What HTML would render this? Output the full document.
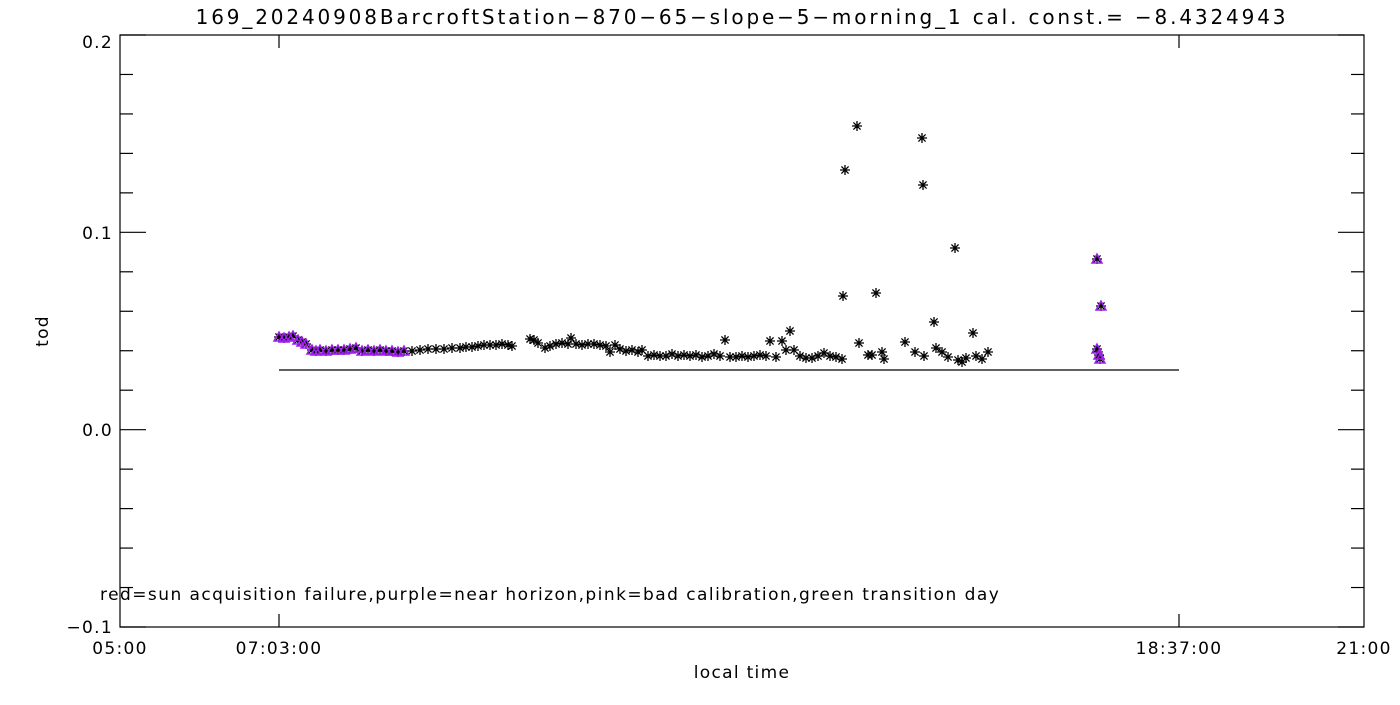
<!DOCTYPE html>
<html><head><style>
body{margin:0;background:#fff;width:1400px;height:700px;overflow:hidden}
svg text{font-family:"DejaVu Sans","Liberation Sans",sans-serif;font-size:17px;fill:#000;letter-spacing:1.3px}
</style></head><body>
<svg id="s" width="1400" height="700" xmlns="http://www.w3.org/2000/svg">
<rect x="120" y="35" width="1244" height="592" fill="none" stroke="#000" stroke-width="1.2"/>
<text x="742" y="24" text-anchor="middle" style="font-size:20px;letter-spacing:2.85px">169_20240908BarcroftStation−870−65−slope−5−morning_1 cal. const.= −8.4324943</text>
<text x="113" y="48" text-anchor="end">0.2</text>
<text x="113" y="239" text-anchor="end">0.1</text>
<text x="113" y="436" text-anchor="end">0.0</text>
<text x="113" y="633" text-anchor="end">−0.1</text>
<text x="120" y="654" text-anchor="middle">05:00</text>
<text x="279" y="654" text-anchor="middle">07:03:00</text>
<text x="1179" y="654" text-anchor="middle">18:37:00</text>
<text x="1364" y="654" text-anchor="middle">21:00</text>
<text x="742" y="678" text-anchor="middle">local time</text>
<text x="48" y="331" text-anchor="middle" transform="rotate(-90 48 331)">tod</text>
<text x="100" y="600" style="letter-spacing:1.45px">red=sun acquisition failure,purple=near horizon,pink=bad calibration,green transition day</text>
<line x1="279" y1="370" x2="1179" y2="370" stroke="#000" stroke-width="1.2"/>
<g id="ax" stroke="#000" stroke-width="1.2"></g>
<g id="pts" stroke="#000" stroke-width="1.3"></g>
<g id="pp" stroke="#a020f0" stroke-width="1.5" fill="none"></g>
</svg>
<script>
var ax=document.getElementById('ax'),h='';
for(var i=0;i<=15;i++){var y=35+i*592/15;var L=(i%5==0)?26:13;
h+='<line x1="120" y1="'+y+'" x2="'+(120+L)+'" y2="'+y+'"/><line x1="1364" y1="'+y+'" x2="'+(1364-L)+'" y2="'+y+'"/>';}
[279,1179].forEach(function(x){h+='<line x1="'+x+'" y1="627" x2="'+x+'" y2="614"/><line x1="'+x+'" y1="35" x2="'+x+'" y2="48"/>';});
ax.innerHTML=h;
var d=[[279,337],[284,338],[289,337],[293,336],[298,340],[302,342],[306,344],[312,350],[316,351],[320,350],[326,351],[332,350],[338,350],[344,350],[350,349],[356,348],[362,351],[368,350],[374,351],[380,350],[386,351],[392,351],[398,352],[404,351],[412,351],[420,350],[428,349],[436,349],[444,349],[452,348],[460,348],[466,347],[472,347],[478,346],[484,345],[490,345],[496,345],[502,344],[508,345],[512,346],[530,339],[534,340],[538,343],[545,348],[550,346],[556,344],[562,343],[568,344],[571,338],[576,344],[582,345],[588,344],[594,344],[600,345],[606,346],[610,352],[615,345],[620,349],[626,351],[632,350],[638,352],[642,350],[648,356],[654,355],[660,356],[666,356],[672,354],[678,356],[684,355],[690,356],[696,355],[702,357],[708,356],[714,354],[720,356],[725,340],[730,357],[736,357],[742,356],[748,357],[754,356],[760,355],[766,356],[770,341],[776,357],[782,341],[786,350],[790,331],[794,350],[800,356],[806,358],[812,358],[818,356],[824,353],[830,356],[836,357],[842,359],[843,296],[845,170],[857,126],[859,343],[868,355],[872,355],[876,293],[882,352],[884,359],[905,342],[915,352],[922,138],[923,185],[924,356],[934,322],[936,348],[942,352],[948,357],[955,248],[958,360],[962,362],[966,358],[973,333],[976,356],[982,359],[988,352],[1097,259],[1101,306],[1097,349],[1099,355],[1100,359]];
var p='',q='';
d.forEach(function(a){var x=a[0],y=a[1],r=5;
p+='<path d="M'+(x-r)+' '+y+'H'+(x+r)+'M'+x+' '+(y-r)+'V'+(y+r)+'M'+(x-3.6)+' '+(y-3.6)+'L'+(x+3.6)+' '+(y+3.6)+'M'+(x-3.6)+' '+(y+3.6)+'L'+(x+3.6)+' '+(y-3.6)+'"/>';
if(x<410||x>1090) q+='<path d="M'+(x-5)+' '+(y+4)+'L'+x+' '+(y-5)+'L'+(x+5)+' '+(y+4)+'Z"/>';});
document.getElementById('pts').innerHTML=p;
document.getElementById('pp').innerHTML=q;
</script>
</body></html>
